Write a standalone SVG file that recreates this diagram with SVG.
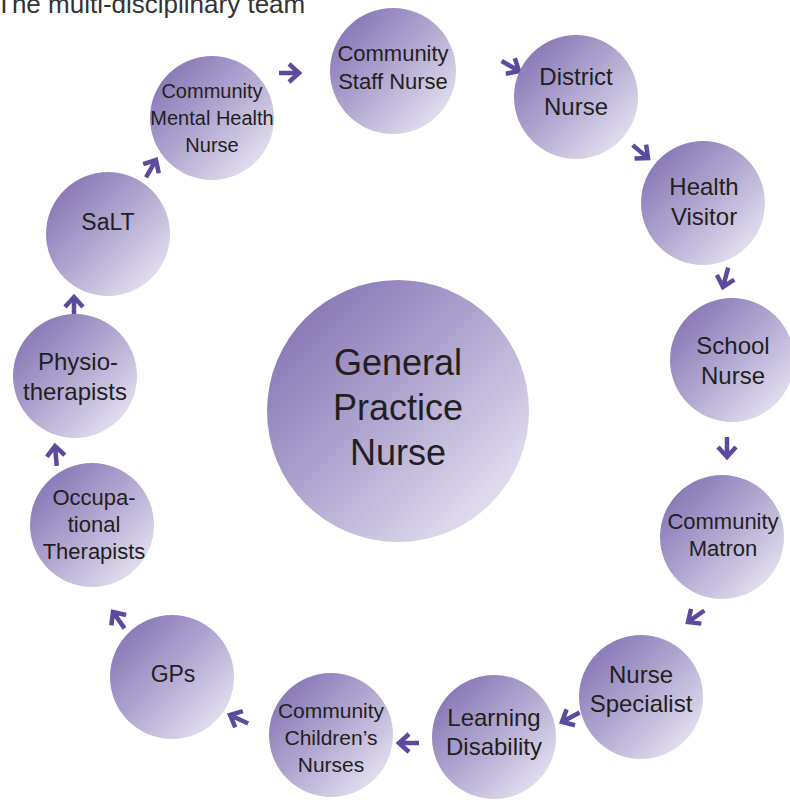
<svg xmlns="http://www.w3.org/2000/svg" width="790" height="800" viewBox="0 0 790 800">
<defs>
<linearGradient id="g" x1="0" y1="0" x2="1" y2="1">
<stop offset="0" stop-color="#7a68ad"/>
<stop offset="0.5" stop-color="#b3a9d2"/>
<stop offset="1" stop-color="#f3f1f8"/>
</linearGradient>
<g id="arr"><path d="M-20,0 L-1,0 M-10,-9 L0,0 L-10,9" fill="none" stroke="#5b4a9e" stroke-width="4.5" stroke-linejoin="miter" stroke-linecap="butt"/></g>
</defs>
<style>
circle{fill:url(#g);}
text{font-family:"Liberation Sans",Arial,sans-serif;fill:#231f20;text-anchor:middle;}
.t{font-size:26px;fill:#333;text-anchor:start;}
</style>
<rect width="790" height="800" fill="#fff"/>
<text class="t" x="-4" y="13">The multi-disciplinary team</text>
<g id="connectors">
<use href="#arr" transform="translate(299,73) rotate(0)"/>
<use href="#arr" transform="translate(519,71) rotate(30)"/>
<use href="#arr" transform="translate(648,158) rotate(40)"/>
<use href="#arr" transform="translate(723,287) rotate(105)"/>
<use href="#arr" transform="translate(727,457) rotate(90)"/>
<use href="#arr" transform="translate(688,622) rotate(145)"/>
<use href="#arr" transform="translate(562,722) rotate(152)"/>
<use href="#arr" transform="translate(399,743) rotate(180)"/>
<use href="#arr" transform="translate(230,715) rotate(205)"/>
<use href="#arr" transform="translate(113,612) rotate(235)"/>
<use href="#arr" transform="translate(55,446) rotate(265)"/>
<use href="#arr" transform="translate(74,297) rotate(270)"/>
<use href="#arr" transform="translate(156,160) rotate(300)"/>
</g>
<g id="gpn"><circle cx="398" cy="411" r="131"/><text font-size="36"><tspan x="398" y="375">General</tspan><tspan x="398" y="420">Practice</tspan><tspan x="398" y="465">Nurse</tspan></text></g>
<g id="css"><circle cx="393" cy="71" r="63"/><text font-size="22"><tspan x="393" y="61">Community</tspan><tspan x="393" y="89">Staff Nurse</tspan></text></g>
<g id="dn"><circle cx="576" cy="97" r="62"/><text font-size="24"><tspan x="576" y="85">District</tspan><tspan x="576" y="115">Nurse</tspan></text></g>
<g id="hv"><circle cx="703" cy="203" r="62"/><text font-size="24"><tspan x="704" y="195">Health</tspan><tspan x="704" y="225">Visitor</tspan></text></g>
<g id="sn"><circle cx="732" cy="360" r="62"/><text font-size="24"><tspan x="733" y="354">School</tspan><tspan x="733" y="384">Nurse</tspan></text></g>
<g id="cm"><circle cx="722" cy="537" r="62"/><text font-size="22"><tspan x="723" y="529">Community</tspan><tspan x="723" y="556">Matron</tspan></text></g>
<g id="ns"><circle cx="641" cy="697" r="62"/><text font-size="24"><tspan x="641" y="683">Nurse</tspan><tspan x="641" y="712">Specialist</tspan></text></g>
<g id="ld"><circle cx="494" cy="737" r="62"/><text font-size="24"><tspan x="494" y="726">Learning</tspan><tspan x="494" y="755">Disability</tspan></text></g>
<g id="ccn"><circle cx="331" cy="735" r="62"/><text font-size="21"><tspan x="331" y="718">Community</tspan><tspan x="331" y="745">Children’s</tspan><tspan x="331" y="772">Nurses</tspan></text></g>
<g id="gps"><circle cx="172" cy="677" r="62"/><text font-size="23"><tspan x="173" y="682">GPs</tspan></text></g>
<g id="ot"><circle cx="92" cy="525" r="62"/><text font-size="22"><tspan x="94" y="505">Occupa-</tspan><tspan x="94" y="532">tional</tspan><tspan x="94" y="559">Therapists</tspan></text></g>
<g id="physio"><circle cx="75" cy="376" r="62"/><text font-size="24"><tspan x="78" y="370">Physio-</tspan><tspan x="75" y="400">therapists</tspan></text></g>
<g id="salt"><circle cx="108" cy="234" r="62"/><text font-size="23"><tspan x="108" y="230">SaLT</tspan></text></g>
<g id="cmhn"><circle cx="212" cy="118" r="62"/><text font-size="20"><tspan x="212" y="98">Community</tspan><tspan x="212" y="125">Mental Health</tspan><tspan x="212" y="152">Nurse</tspan></text></g>
</svg>
